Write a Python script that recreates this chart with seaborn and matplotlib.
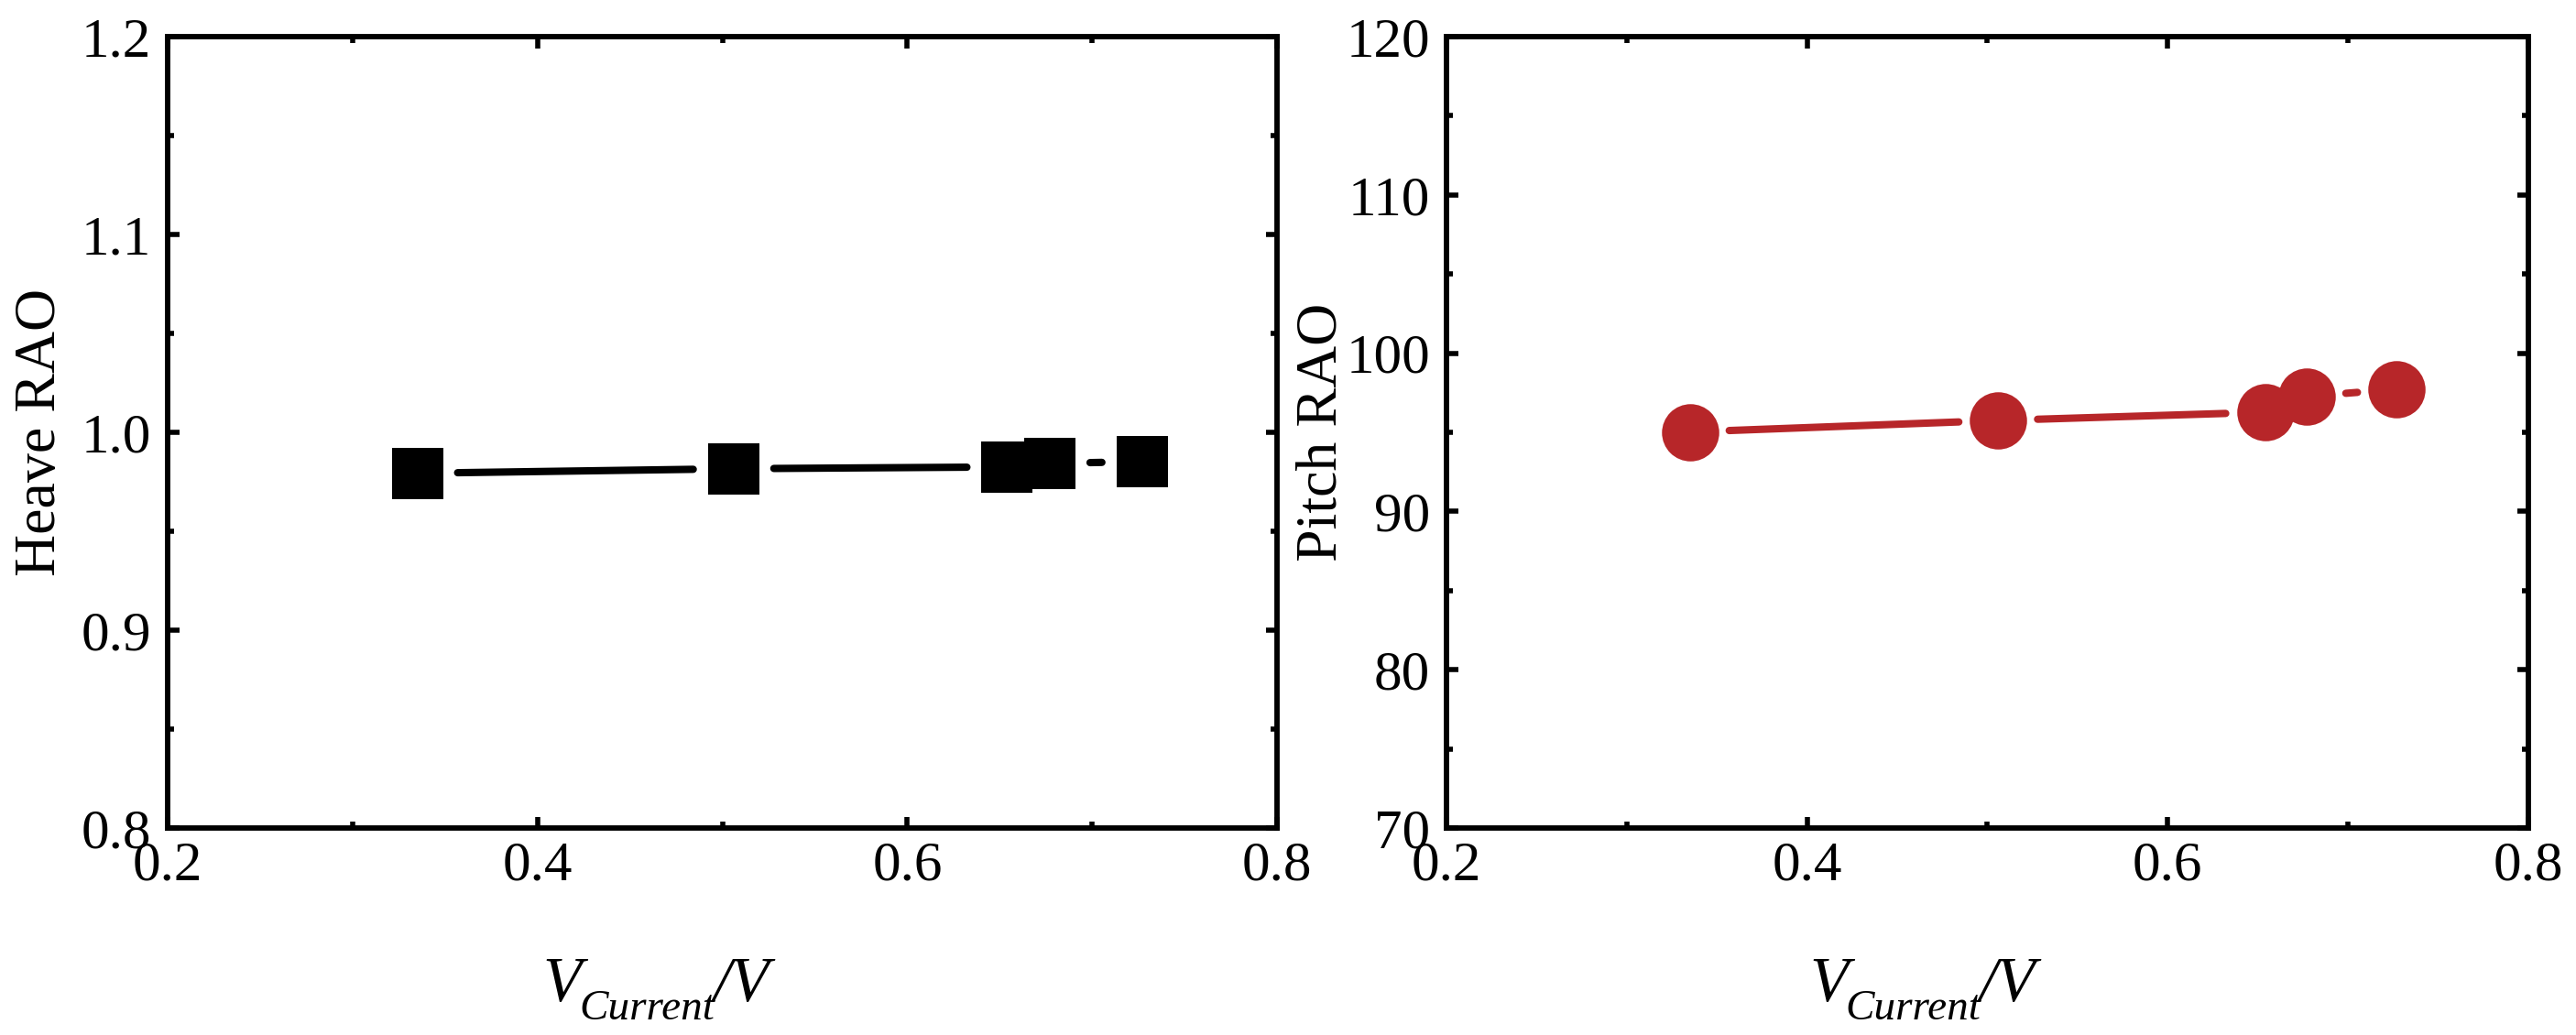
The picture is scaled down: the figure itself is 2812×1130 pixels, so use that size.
import numpy as np
import pandas as pd
import matplotlib
matplotlib.use("Agg")
import matplotlib.pyplot as plt
from matplotlib.ticker import MultipleLocator, FormatStrFormatter
import seaborn as sns

# data
v_ratio = [0.335, 0.506, 0.654, 0.677, 0.727]
heave_rao = [0.9793, 0.9816, 0.9825, 0.9843, 0.9852]
pitch_rao = [95.02, 95.75, 96.27, 97.27, 97.72]

RED = "#B72629"

sns.set_theme(style="ticks")
plt.rcParams["font.family"] = ["Liberation Serif", "DejaVu Serif"]
for k in ("text.color", "axes.labelcolor", "xtick.color", "ytick.color",
          "xtick.labelcolor", "ytick.labelcolor", "axes.edgecolor"):
    plt.rcParams[k] = "black"

fig = plt.figure(figsize=(28.12, 11.3), dpi=100)
ax1 = fig.add_axes([0.0651, 0.2, 0.4307, 0.7646])
ax2 = fig.add_axes([0.5615, 0.2, 0.42, 0.7646])


def style_axis(ax, ylim, ymaj, ymin, yfmt):
    ax.set_xlim(0.2, 0.8)
    ax.set_ylim(*ylim)
    ax.xaxis.set_major_locator(MultipleLocator(0.2))
    ax.xaxis.set_minor_locator(MultipleLocator(0.1))
    ax.yaxis.set_major_locator(MultipleLocator(ymaj))
    ax.yaxis.set_minor_locator(MultipleLocator(ymin))
    ax.xaxis.set_major_formatter(FormatStrFormatter("%.1f"))
    ax.yaxis.set_major_formatter(FormatStrFormatter(yfmt))
    for s in ax.spines.values():
        s.set_visible(True)
        s.set_linewidth(4.2)
        s.set_color("black")
    ax.tick_params(which="both", direction="in", top=True, right=True,
                   color="black", labelcolor="black", width=4, labelsize=44)
    ax.tick_params(which="major", length=9)
    ax.tick_params(which="minor", length=5)
    ax.tick_params(axis="y", which="major", pad=13)
    ax.tick_params(axis="x", which="major", pad=10)
    ax.grid(False)


def set_labels(ax, ylabel):
    ax.set_xlabel("")
    ax.set_ylabel(ylabel, fontsize=46, color="black")
    ax.yaxis.set_label_coords(-0.09, 0.5)
    # V_Current / V, built from pieces so the subscript sits low like Origin's
    yb = -0.219
    kw = dict(style="italic", color="black", va="baseline", ha="left",
              textcoords="offset points", annotation_clip=False)
    v = ax.annotate("V", xy=(0.44, yb), xycoords="axes fraction",
                    xytext=(-89, 0), fontsize=50, **kw)
    sub = ax.annotate("Current", xy=(1, yb), xycoords=(v, "axes fraction"),
                      xytext=(-2, -14.5), fontsize=34, **kw)
    ax.annotate("/V", xy=(1, yb), xycoords=(sub, "axes fraction"),
                xytext=(-1.5, 0), fontsize=50, **kw)


def gapped_line(ax, xs, ys, gap, color, lw):
    # Origin-style connecting line that stops short of each marker
    pts = ax.transData.transform(np.column_stack([xs, ys]))
    inv = ax.transData.inverted()
    for p0, p1 in zip(pts[:-1], pts[1:]):
        d = p1 - p0
        L = np.hypot(*d)
        if L <= 2 * gap:
            continue
        a = p0 + d * gap / L
        b = p1 - d * gap / L
        seg = inv.transform(np.array([a, b]))
        ax.plot(seg[:, 0], seg[:, 1], color=color, lw=lw,
                solid_capstyle="round", zorder=2)


style_axis(ax1, (0.8, 1.2), 0.1, 0.05, "%.1f")
style_axis(ax2, (70, 120), 10, 5, "%d")

df = pd.DataFrame({"v": v_ratio, "heave": heave_rao, "pitch": pitch_rao})

gapped_line(ax1, df["v"], df["heave"], 44, "black", 5.8)
sns.scatterplot(data=df, x="v", y="heave", ax=ax1, marker="s", s=40.5 ** 2,
                color="black", linewidth=0, zorder=3, legend=False)

gapped_line(ax2, df["v"], df["pitch"], 43, RED, 5.8)
sns.scatterplot(data=df, x="v", y="pitch", ax=ax2, marker="o", s=45 ** 2,
                color=RED, linewidth=0, zorder=3, legend=False)

set_labels(ax1, "Heave RAO")
set_labels(ax2, "Pitch RAO")

fig.savefig("out.png", dpi=100, facecolor="white")
